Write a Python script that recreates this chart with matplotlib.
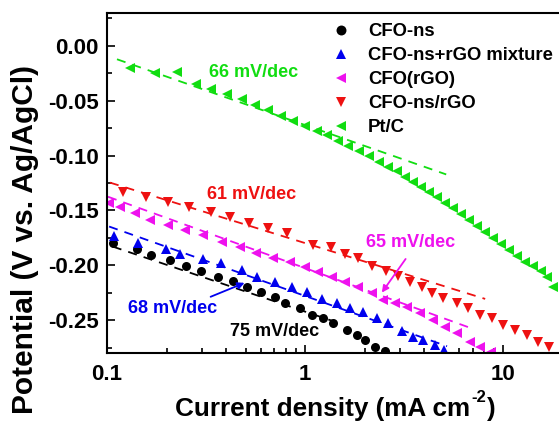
import numpy as np
import matplotlib
matplotlib.use("Agg")
import matplotlib.pyplot as plt
from matplotlib.ticker import MultipleLocator, FixedLocator, FixedFormatter

plt.rcParams['font.family'] = ['Liberation Sans', 'DejaVu Sans']
plt.rcParams['font.weight'] = 'bold'
plt.rcParams['axes.unicode_minus'] = False

# CFO-ns
cfo_x = [0.107, 0.142, 0.167, 0.208, 0.251, 0.298, 0.364, 0.433, 0.509, 0.600, 0.706,
         0.793, 0.943, 1.085, 1.233, 1.385, 1.63, 1.831, 2.01, 2.257, 2.535]
cfo_y = [-0.1794, -0.1849, -0.1904, -0.195, -0.2004, -0.205, -0.2105, -0.2142, -0.2196,
         -0.2242, -0.2288, -0.2343, -0.2388, -0.2452, -0.248, -0.2525, -0.259, -0.2635,
         -0.268, -0.2745, -0.278]

# CFO-ns+rGO mixture
mix_x = [0.1085, 0.1434, 0.1986, 0.2337, 0.3054, 0.3765, 0.4806, 0.5722, 0.7055, 0.8597,
         1.0235, 1.219, 1.451, 1.688, 1.963, 2.31, 2.626, 3.09, 3.513, 3.945, 4.536, 5.035]
mix_y = [-0.173, -0.1794, -0.1849, -0.1895, -0.194, -0.1977, -0.2041, -0.2105, -0.2151,
         -0.2196, -0.2242, -0.2306, -0.2343, -0.2388, -0.2425, -0.248, -0.2525, -0.2598,
         -0.2653, -0.2681, -0.2726, -0.2772]

# CFO(rGO)
crgo_x = [0.1023, 0.1163, 0.1385, 0.1649, 0.2033, 0.2477, 0.3054, 0.3809, 0.4696, 0.5655,
          0.6893, 0.8401, 1.0, 1.163, 1.369, 1.592, 1.853, 2.18, 2.477, 2.848, 3.274,
          3.809, 4.432, 5.095, 5.858, 6.814, 7.653, 8.7]
crgo_y = [-0.1429, -0.1465, -0.152, -0.1584, -0.163, -0.1675, -0.1721, -0.1785, -0.1831,
          -0.1886, -0.1931, -0.1968, -0.2014, -0.2059, -0.2105, -0.2151, -0.2196, -0.2251,
          -0.2315, -0.2343, -0.2379, -0.2434, -0.2498, -0.2562, -0.2617, -0.2699, -0.2745,
          -0.279]

# CFO-ns/rGO
nsrgo_x = [0.1205, 0.1574, 0.2033, 0.2595, 0.3352, 0.418, 0.5215, 0.6505, 0.8111, 1.098,
           1.353, 1.592, 1.853, 2.18, 2.566, 2.949, 3.391, 3.898, 4.38, 4.977, 5.858,
           6.656, 7.653, 8.801, 10.0, 11.5, 13.22, 15.03, 17.08]
nsrgo_y = [-0.1328, -0.1374, -0.1419, -0.1465, -0.1511, -0.1557, -0.1611, -0.1657, -0.1703,
           -0.1812, -0.1831, -0.1895, -0.1931, -0.2004, -0.205, -0.2096, -0.2151, -0.2196,
           -0.2251, -0.2297, -0.2343, -0.2388, -0.2452, -0.248, -0.2544, -0.2589, -0.2635,
           -0.2699, -0.2745]

# Pt/C
ptc_x = [0.1307, 0.1748, 0.2257, 0.2816, 0.3352, 0.4037, 0.4806, 0.559, 0.6505, 0.7565,
         0.87, 1.0, 1.15, 1.292, 1.468, 1.649, 1.874, 2.105, 2.364, 2.626, 2.915, 3.2,
         3.513, 3.854, 4.229, 4.642, 5.095, 5.59, 6.136, 6.734, 7.391, 8.11, 8.904, 9.77,
         10.72, 11.77, 12.92, 14.18, 15.56, 16.68, 17.89]
ptc_y = [-0.0204, -0.025, -0.024, -0.035, -0.0396, -0.0441, -0.0487, -0.0542, -0.0588,
         -0.0643, -0.0688, -0.0734, -0.078, -0.0816, -0.0871, -0.0917, -0.0962, -0.1008,
         -0.1054, -0.11, -0.1145, -0.1191, -0.1237, -0.1282, -0.1328, -0.1374, -0.1429,
         -0.1474, -0.1529, -0.1584, -0.1639, -0.1694, -0.1748, -0.1803, -0.1858, -0.1913,
         -0.1968, -0.2004, -0.205, -0.2105, -0.2196]

labels = ['CFO-ns', 'CFO-ns+rGO mixture', 'CFO(rGO)', 'CFO-ns/rGO', 'Pt/C']
colors = ['black', '#0000ee', '#ee11ee', '#ee1111', '#11dd11']
markers = ['o', '^', '<', 'v', '<']
series = [(cfo_x, cfo_y), (mix_x, mix_y), (crgo_x, crgo_y), (nsrgo_x, nsrgo_y), (ptc_x, ptc_y)]

# Tafel fits: y = intercept + slope*log10(x)
fit_start = [0.107, 0.1025, 0.1012, 0.1035, 0.1123]
fit_end = [1.5, 5.2, 6.8, 8.1, 5.15]
fit_intercept = [-0.2423, -0.228, -0.2026, -0.1798, -0.0722]
fit_slope = [-0.0611, -0.064, -0.0654, -0.056, -0.0632]

W, H = 559, 422
fig = plt.figure(figsize=(W / 100, H / 100), dpi=100)
ax = fig.add_axes([0.1914, 0.1635, 0.8157, 0.8057])

for i, (xs, ys) in enumerate(series):
    ax.plot(xs, ys, linestyle='none', marker=markers[i], color=colors[i],
            markersize=6.5, markeredgewidth=0, label=labels[i])
    fx = np.logspace(np.log10(fit_start[i]), np.log10(fit_end[i]), 50)
    ax.plot(fx, fit_intercept[i] + fit_slope[i] * np.log10(fx), linestyle=(0, (5, 4)),
            color=colors[i], lw=1.3)

ax.set_xscale('log')
ax.set_xlim(0.1, 20)
ax.set_ylim(-0.28, 0.03)
ax.xaxis.set_major_locator(FixedLocator([0.1, 1, 10]))
ax.xaxis.set_major_formatter(FixedFormatter(['0.1', '1', '10']))
ax.yaxis.set_major_locator(MultipleLocator(0.05))
ax.yaxis.set_minor_locator(MultipleLocator(0.025))
ax.yaxis.set_major_formatter(plt.FuncFormatter(lambda v, p: '%.2f' % v if abs(v) > 1e-9 else '0.00'))
ax.tick_params(which='both', direction='in', labelsize=16, width=1.2)
ax.tick_params(axis='y', pad=6)
ax.tick_params(axis='x', pad=8)
ax.tick_params(which='major', length=6)
ax.tick_params(which='minor', length=3.5)
for s in ax.spines.values():
    s.set_linewidth(1.5)

ax.set_ylabel('Potential (V vs. Ag/AgCl)', fontsize=21.5, fontweight='bold')
ax.yaxis.set_label_coords(-0.149, 0.335)

# x label built in pieces so the superscript keeps a plain hyphen
fig.canvas.draw()
r = fig.canvas.get_renderer()
base_y = 1 - 416 / H
t1 = fig.text(175 / W, base_y, 'Current density (mA cm', fontsize=18.8, va='baseline')
b1 = t1.get_window_extent(r)
t2 = fig.text(b1.x1 / W + 1 / W, base_y + 14 / H, '-2', fontsize=12, va='baseline')
b2 = t2.get_window_extent(r)
fig.text(b2.x1 / W + 1 / W, base_y, ')', fontsize=18.8, va='baseline')

ax.text(0.546, -0.024, '66 mV/dec', color=colors[4], fontsize=13, ha='center', va='center')
ax.text(0.534, -0.1355, '61 mV/dec', color=colors[3], fontsize=13, ha='center', va='center')
ax.text(3.39, -0.1795, '65 mV/dec', color=colors[2], fontsize=13, ha='center', va='center')
ax.text(0.2154, -0.2397, '68 mV/dec', color=colors[1], fontsize=13, ha='center', va='center')
ax.text(0.6975, -0.2608, '75 mV/dec', color='black', fontsize=13, ha='center', va='center')

ax.annotate('', xy=(0.5094, -0.2151), xytext=(0.3236, -0.2297),
            arrowprops=dict(arrowstyle='-|>', color=colors[1], lw=1.3, mutation_scale=10))
ax.annotate('', xy=(2.392, -0.2270), xytext=(3.274, -0.1922),
            arrowprops=dict(arrowstyle='-|>', color=colors[2], lw=1.3, mutation_scale=10))

ax.legend(loc='upper left', bbox_to_anchor=(332 / W, 1 - 23 / H), bbox_transform=fig.transFigure,
          frameon=False, fontsize=13.3, handletextpad=0.95, labelspacing=0.38,
          borderaxespad=0, borderpad=0, handlelength=1.0, markerscale=1.1)

fig.savefig('out.png', dpi=100)
